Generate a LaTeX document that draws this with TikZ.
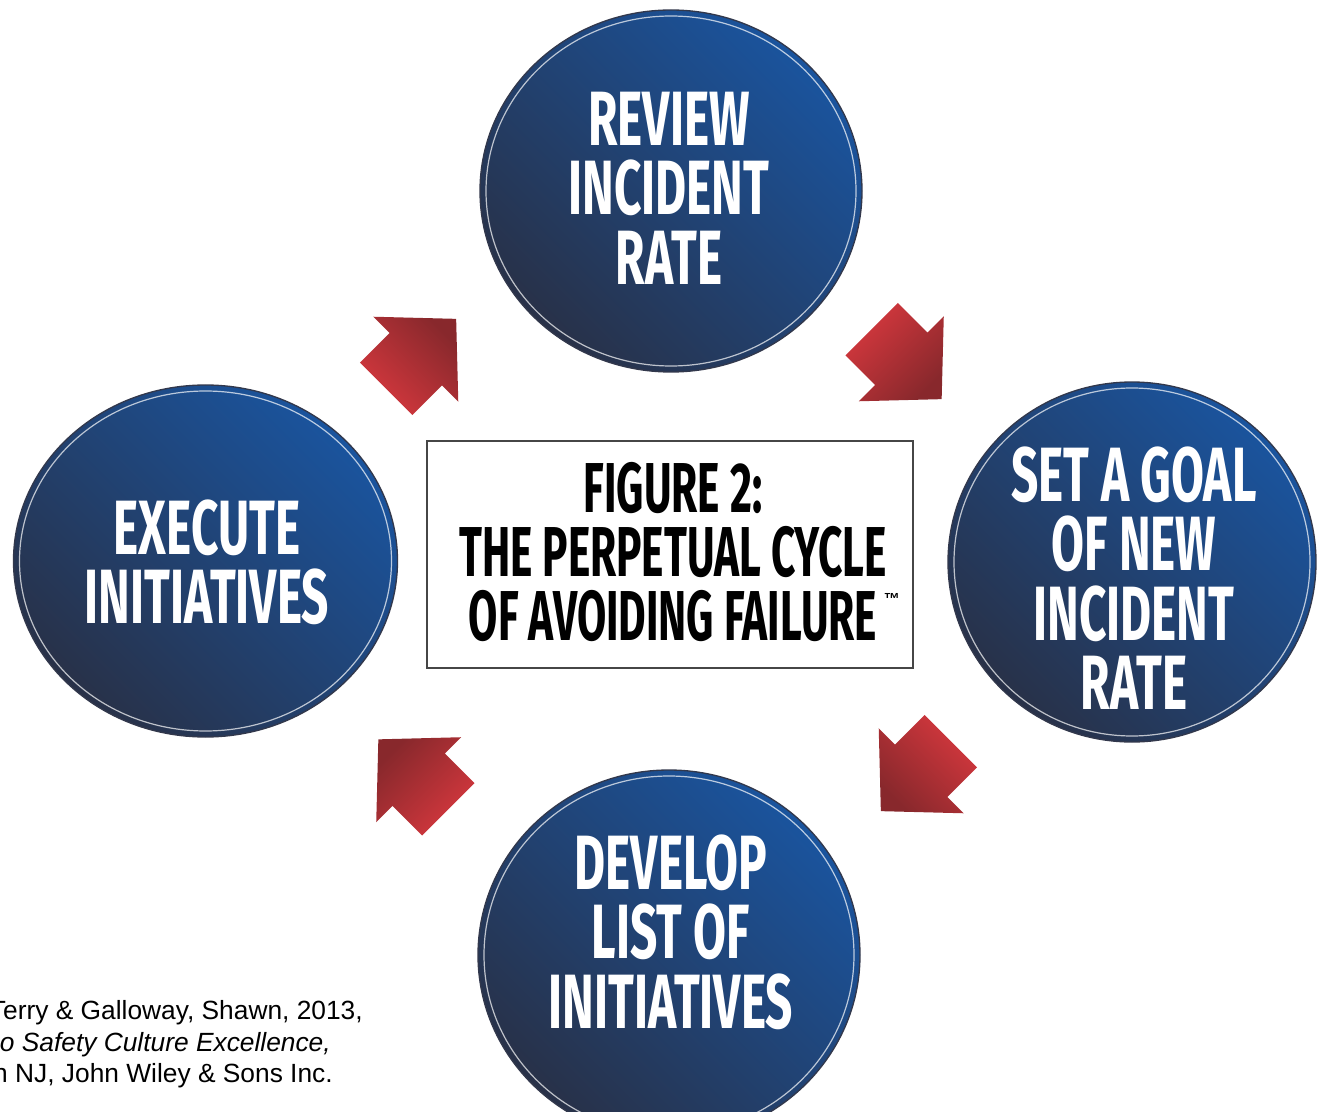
\documentclass[tikz,border=0pt]{standalone}
\usepackage{fontspec}
\newfontfamily\btnfont[FakeStretch=0.62]{Fira Sans}
\newfontfamily\titlefont[FakeStretch=0.6]{Fira Sans}
\newfontfamily\citefont{Liberation Sans}

\definecolor{btnblue}{RGB}{26,84,158}
\definecolor{btnnavy}{RGB}{40,49,72}
\definecolor{btnedge}{RGB}{50,56,76}
\definecolor{arrowlight}{RGB}{214,56,62}
\definecolor{arrowdark}{RGB}{136,40,44}
\definecolor{boxgray}{RGB}{70,70,70}

\tikzset{
  button/.style={draw=btnedge, line width=1pt, top color=btnblue, bottom color=btnnavy, shading angle=-45},
  ring/.style={draw=white, line width=0.9pt, opacity=0.7},
  btntext/.style={text=white, align=center, inner sep=0pt, font=\btnfont\bfseries\fontsize{57.75}{52}\selectfont},
  titletext/.style={align=center, inner sep=0pt, font=\titlefont\bfseries\fontsize{53}{48}\selectfont},
  redarrow/.style={top color=arrowlight, bottom color=arrowdark, shading angle=#1},
  cite/.style={inner sep=0pt, anchor=base east, font=\citefont\fontsize{19.75}{24}\selectfont},
}

\begin{document}
\begin{tikzpicture}[x=0.75pt,y=0.75pt,yscale=-1,xscale=1]
\useasboundingbox (0,0) rectangle (1317,1112);
\clip (0,0) rectangle (1317,1112);

%Shape: Ellipse (top button)
\draw[button] (671,191) ellipse (191 and 181);
\draw[ring] (671,191) ellipse (185 and 175);
%Shape: Ellipse (right button)
\draw[button] (1132,562) ellipse (184 and 180);
\draw[ring] (1132,562) ellipse (178 and 174);
%Shape: Ellipse (bottom button)
\draw[button] (669,955) ellipse (191 and 185);
\draw[ring] (669,955) ellipse (185 and 179);
%Shape: Ellipse (left button)
\draw[button] (205.5,561) ellipse (192 and 176);
\draw[ring] (205.5,561) ellipse (186 and 170);

%Shape: Right Arrow (left -> top)
\shade[redarrow=135, shift={(421.5,353.5)}, rotate=-45] (-50,37) -- (-8,37) -- (-8,60) -- (49,0) -- (-8,-60) -- (-8,-37) -- (-50,-37) -- cycle ;
%Shape: Right Arrow (top -> right)
\shade[redarrow=45, shift={(907,364.5)}, rotate=45] (-50,37) -- (-8,37) -- (-8,60) -- (49,0) -- (-8,-60) -- (-8,-37) -- (-50,-37) -- cycle ;
%Shape: Right Arrow (right -> bottom)
\shade[redarrow=315, shift={(915.5,776.5)}, rotate=135] (-50,37) -- (-8,37) -- (-8,60) -- (49,0) -- (-8,-60) -- (-8,-37) -- (-50,-37) -- cycle ;
%Shape: Right Arrow (bottom -> left)
\shade[redarrow=225, shift={(413,774)}, rotate=-135] (-50,37) -- (-8,37) -- (-8,60) -- (49,0) -- (-8,-60) -- (-8,-37) -- (-50,-37) -- cycle ;

%Flowchart: Process (title box)
\draw[draw=boxgray, line width=1.5pt, fill=white] (427,441) -- (913,441) -- (913,668) -- (427,668) -- cycle ;

% Text Node
\draw (669,188) node (review) [btntext] {REVIEW\\INCIDENT\\RATE};
% Text Node
\draw (1134,578) node (goal) [btntext] {SET A GOAL\\OF NEW\\INCIDENT\\RATE};
% Text Node
\draw (671,932) node (develop) [btntext] {DEVELOP\\LIST OF\\INITIATIVES};
% Text Node
\draw (207,562) node (execute) [btntext] {EXECUTE\\INITIATIVES};
% Text Node
\draw (673,552) node (title) [titletext] {FIGURE 2:\\THE PERPETUAL CYCLE\\OF AVOIDING FAILURE\rlap{\hspace{5pt}\raisebox{27pt}{\citefont\fontsize{12}{12}\selectfont ™}}};
% Text Node
\draw (363,1019) node (cite1) [cite] {Terry \& Galloway, Shawn, 2013,};
% Text Node
\draw (331,1051) node (cite2) [cite] {\itshape o Safety Culture Excellence,};
% Text Node
\draw (333,1082) node (cite3) [cite] {n NJ, John Wiley \& Sons Inc.};

\end{tikzpicture}
\end{document}
